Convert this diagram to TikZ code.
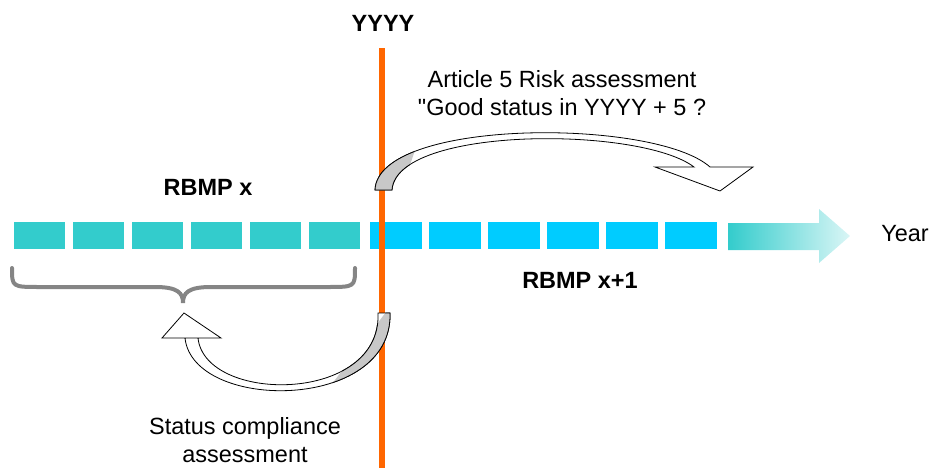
\documentclass[tikz,border=0pt]{standalone}
\usepackage{fontspec}
\setmainfont{Liberation Sans}[Ligatures=TeXOff]
\usepackage{tikz}
\definecolor{rbmpteal}{HTML}{33CCCC}
\definecolor{rbmpcyan}{HTML}{00CCFF}
\definecolor{yearline}{HTML}{FF6600}
\definecolor{bracegray}{HTML}{858585}
\definecolor{arrowgray}{HTML}{C8C8C8}
\begin{document}
\begin{tikzpicture}[x = 0.75pt, y = -0.75pt, every node/.style = {font = \fontsize{17.6}{21}\selectfont, align = center}]
		\useasboundingbox (0,0) rectangle (933,468);
		% time bar
		\foreach \i in {0,...,5}
		{
			\fill[rbmpteal] (14+59*\i,222) rectangle (65+59*\i,249);
			\fill[rbmpcyan] (370+59*\i,222) rectangle (422+59*\i,249);
		}
		\shade[left color = rbmpteal, right color = rbmpteal!18] (728,223) -- (819,223) -- (819,209) -- (850,236) -- (819,263) -- (819,250) -- (728,250) -- cycle;
		% year line
		\draw[line width = 5.2pt, color = yearline] (382,48) -- (382,468);
		% brace
		\draw[line width = 3pt, color = bracegray, line cap = round] (12,268) .. controls (12,287) .. (40,287) -- (155,287) .. controls (178,287) and (183,293) .. (183,303) .. controls (183,293) and (188,287) .. (211,287) -- (327,287) .. controls (355,287) .. (355,268);
		% article 5 arrow
		\draw[line width = 0.6pt, fill = white] (375,190) .. controls (378,118) and (655,118) .. (710,167) -- (753,167) -- (720,191) -- (655,167) -- (694,167) .. controls (640,126) and (396,126) .. (392,190) -- cycle;
		\begin{scope}
			\clip (360,120) -- (425,120) -- (400,195) -- (360,195) -- cycle;
			\draw[line width = 0.6pt, fill = arrowgray] (375,190) .. controls (378,118) and (655,118) .. (710,167) -- (694,167) .. controls (640,126) and (396,126) .. (392,190) -- cycle;
		\end{scope}
		% compliance arrow
		\draw[line width = 0.6pt, fill = white] (390,313) .. controls (393,412) and (193,412) .. (185,338) -- (221,338) -- (184,313) -- (162,338) -- (198,338) .. controls (205,404) and (382,404) .. (378,313) -- cycle;
		\begin{scope}
			\clip (395,300) -- (395,400) -- (320,400) -- cycle;
			\draw[line width = 0.6pt, fill = arrowgray] (390,313) .. controls (393,412) and (193,412) .. (185,338) -- (198,338) .. controls (205,404) and (382,404) .. (378,313) -- cycle;
		\end{scope}
		% labels
		\node (yyyy) at (383,23) {\bfseries YYYY};
		\node (risk) at (562,93) {Article 5 Risk assessment\\"Good status in YYYY + 5 ?};
		\node (rbmpx) at (208,187) {\bfseries RBMP x};
		\node (rbmpnext) at (580,280) {\bfseries RBMP x+1};
		\node (year) at (905,234) {Year};
		\node (status) at (245,440) {Status compliance\\assessment};
\end{tikzpicture}
\end{document}
